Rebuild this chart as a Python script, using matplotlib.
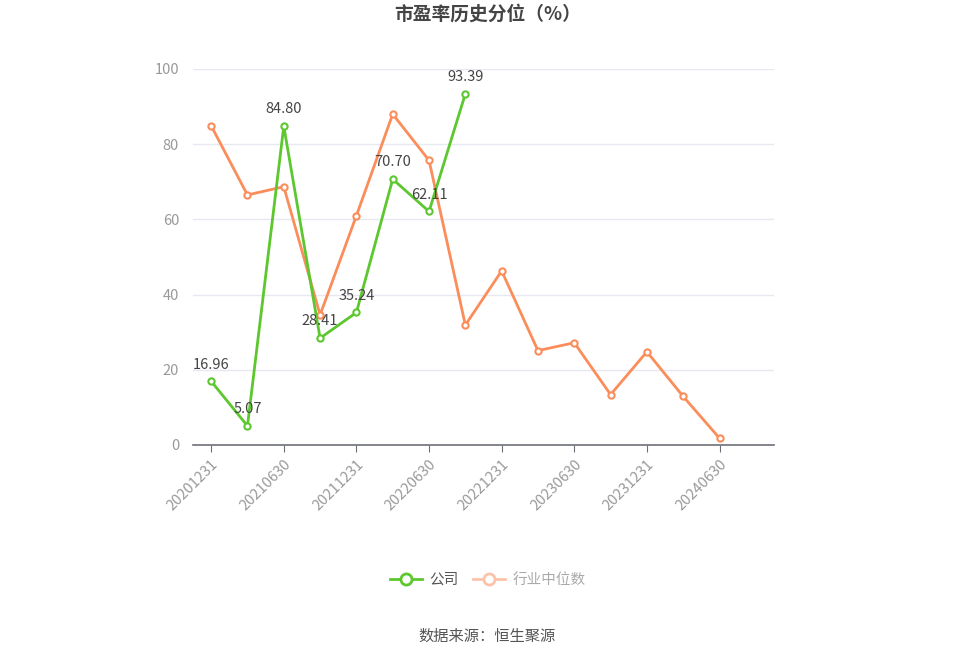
import matplotlib
matplotlib.use("Agg")
import matplotlib.pyplot as plt
from matplotlib.lines import Line2D

plt.rcParams['font.family'] = ['Noto Sans CJK SC', 'DejaVu Sans']

# categories (16 slots, last one empty)
dates = ["20201231", "20210331", "20210630", "20210930", "20211231", "20220331",
         "20220630", "20220930", "20221231", "20230331", "20230630", "20230930",
         "20231231", "20240331", "20240630", "20240930"]
company = [16.96, 5.07, 84.80, 28.41, 35.24, 70.70, 62.11, 93.39]
industry = [84.9, 66.5, 68.7, 34.6, 61.0, 88.0, 75.7, 31.9, 46.3, 25.1, 27.2,
            13.4, 24.8, 12.9, 1.8]
yticks = [0, 20, 40, 60, 80, 100]

green = "#5cc72e"
orange = "#fb8d5b"

fig = plt.figure(figsize=(9.75, 6.58), dpi=100)
ax = fig.add_axes([193 / 975, 1 - 445 / 658, (774 - 193) / 975, (445 - 69) / 658])

x_ind = list(range(len(industry)))
x_com = list(range(len(company)))
ax.plot(x_ind, industry, color=orange, lw=2, marker="o", ms=4.5,
        mfc="white", mec=orange, mew=1.5, zorder=3)
ax.plot(x_com, company, color=green, lw=2, marker="o", ms=4.5,
        mfc="white", mec=green, mew=1.5, zorder=4)

for xi, v in zip(x_com, company):
    ax.annotate(f"{v:.2f}", (xi, v), xytext=(0, 7), textcoords="offset points",
                ha="center", va="bottom", fontsize=10.5, color="#444444", zorder=5)

ax.set_xlim(-0.5, len(dates) - 0.5)
ax.set_ylim(0, 100)
ax.set_yticks(yticks)
ax.set_yticklabels([str(t) for t in yticks], color="#999999", fontsize=10.5)
ax.grid(axis="y", color="#e6e9f0", lw=1)
ax.set_axisbelow(True)

tick_pos = list(range(0, len(dates), 2))
ax.set_xticks(tick_pos)
ax.set_xticklabels([dates[i] for i in tick_pos], rotation=45, ha="right",
                   rotation_mode="anchor", color="#999999", fontsize=10.5)
ax.tick_params(axis="x", length=5, color="#6e7079", pad=4)
ax.tick_params(axis="y", length=0, pad=10)

for s in ["top", "right", "left"]:
    ax.spines[s].set_visible(False)
ax.spines["bottom"].set_color("#6e7079")
ax.spines["bottom"].set_linewidth(1.2)

fig.text(0.5, 1 - 14 / 658, "市盈率历史分位（%）", ha="center", va="center",
         fontsize=13.5, fontweight="bold", color="#444444")

handles = [
    Line2D([0], [0], color=green, lw=2, marker="o", ms=8, mfc="white", mec=green, mew=2),
    Line2D([0], [0], color="#fdc3aa", lw=2, marker="o", ms=8, mfc="white", mec="#fdc3aa", mew=2),
]
leg = fig.legend(handles, ["公司", "行业中位数"], loc="center", ncol=2,
                 bbox_to_anchor=(0.5, 1 - 580 / 658), frameon=False, fontsize=10.5,
                 handlelength=2.2, columnspacing=1.0, handletextpad=0.5)
leg.get_texts()[0].set_color("#555555")
leg.get_texts()[1].set_color("#aaaaaa")

fig.text(0.5, 1 - 636 / 658, "数据来源：恒生聚源", ha="center", va="center",
         fontsize=11, color="#555555")

plt.savefig("out.png", dpi=100)
